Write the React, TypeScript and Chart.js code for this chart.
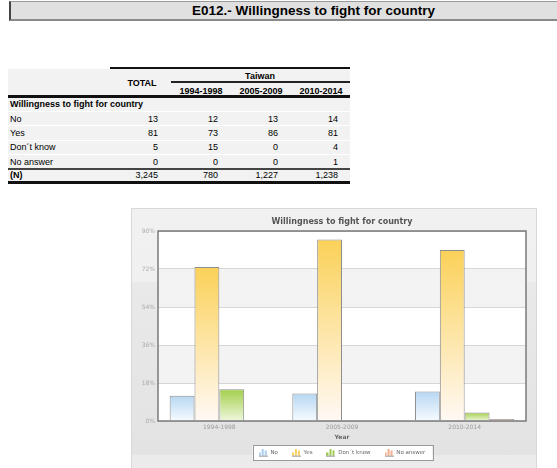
import React, { useEffect, useRef } from 'react';
import { Chart, registerables } from 'chart.js';

Chart.register(...registerables);

// ---------- data ----------
const pageTitle = 'E012.- Willingness to fight for country';
const chartTitle = 'Willingness to fight for country';
const countryLabel = 'Taiwan';
const categories = ['1994-1998', '2005-2009', '2010-2014'];
const seriesLabels = ['No', 'Yes', 'Don\u00b4t know', 'No answer'];
const noValues = [12, 13, 14];
const yesValues = [73, 86, 81];
const dontKnowValues = [15, 0, 4];
const noAnswerValues = [0, 0, 1];
const totalValues = [13, 81, 5, 0];
const sampleSizes = [3245, 780, 1227, 1238];
const yTicks = [0, 18, 36, 54, 72, 90];
const xAxisTitle = 'Year';

const seriesValues = [noValues, yesValues, dontKnowValues, noAnswerValues];
const seriesColors = [
  ['#b6d7f2', '#f7fbff'],
  ['#fbd158', '#fff9f5'],
  ['#a3cf4b', '#eff8de'],
  ['#f3ab88', '#fbe2d4'],
];
const iconColors = ['#a9cdef', '#f8cf63', '#9fcb52', '#f2ad8d'];

const FONT = "'DejaVu Sans', Verdana, sans-serif";
const TFONT = "'Liberation Sans', Arial, sans-serif";

function makeIcon(color: string) {
  const c = document.createElement('canvas');
  c.width = 9;
  c.height = 8;
  const g = c.getContext('2d')!;
  g.fillStyle = color;
  g.fillRect(0, 4, 2, 4);
  g.fillRect(3, 0, 2, 8);
  g.fillRect(6, 2, 2, 6);
  g.fillStyle = '#bbbbbb';
  g.fillRect(0, 7, 9, 1);
  return c;
}

const bandsPlugin = {
  id: 'bands',
  beforeDraw(chart: any) {
    const { ctx, chartArea: a, scales } = chart;
    if (!a) return;
    const y = scales.y;
    ctx.save();
    ctx.fillStyle = '#ffffff';
    ctx.fillRect(a.left, a.top, a.right - a.left, a.bottom - a.top);
    ctx.fillStyle = '#f3f3f3';
    for (let i = 0; i < yTicks.length - 1; i++) {
      if (i % 2 === 1) {
        const t = y.getPixelForValue(yTicks[i + 1]);
        const b = y.getPixelForValue(yTicks[i]);
        ctx.fillRect(a.left, t, a.right - a.left, b - t);
      }
    }
    // legend frame
    const lg = chart.legend;
    const hb = lg && lg.legendHitBoxes;
    if (hb && hb.length) {
      const left = Math.min(...hb.map((h: any) => h.left)) - 6;
      const right = Math.max(...hb.map((h: any) => h.left + h.width)) + 7;
      const cy = hb[0].top + hb[0].height / 2;
      const top = cy - 7.5;
      const h = 15;
      ctx.fillStyle = '#ffffff';
      ctx.fillRect(left, top, right - left, h);
      ctx.strokeStyle = '#9a9a9a';
      ctx.lineWidth = 1;
      ctx.strokeRect(Math.round(left) + 0.5, Math.round(top) + 0.5, Math.round(right - left), h);
    }
    ctx.restore();
  },
};

const framePlugin = {
  id: 'frame',
  afterDatasetsDraw(chart: any) {
    const { ctx, chartArea: a } = chart;
    ctx.save();
    ctx.strokeStyle = '#7a7a7a';
    ctx.lineWidth = 1.5;
    ctx.strokeRect(a.left, a.top, a.right - a.left, a.bottom - a.top);
    ctx.restore();
  },
};

function gradientFor(i: number) {
  return (ctx: any) => {
    const [top, bottom] = seriesColors[i];
    const chart = ctx.chart;
    if (!chart.chartArea || ctx.type !== 'data') return top;
    const y = chart.scales.y;
    const v = ctx.parsed ? ctx.parsed.y : 0;
    const yt = y.getPixelForValue(v);
    const yb = y.getPixelForValue(0);
    if (yb - yt < 1) return top;
    const g = chart.ctx.createLinearGradient(0, yt, 0, yb);
    g.addColorStop(0, top);
    g.addColorStop(1, bottom);
    return g;
  };
}

function ChartBox() {
  const ref = useRef<HTMLCanvasElement>(null);
  useEffect(() => {
    const icons = iconColors.map(makeIcon);
    const chart = new Chart(ref.current!, {
      type: 'bar',
      data: {
        labels: categories,
        datasets: seriesLabels.map((label, i) => ({
          label,
          data: seriesValues[i],
          backgroundColor: gradientFor(i),
          borderColor: '#8e8e8e',
          borderWidth: (c: any) => (c.raw === 0 ? 0 : 1),
          categoryPercentage: 0.81,
          barPercentage: 1,
        })),
      },
      options: {
        animation: false,
        responsive: false,
        devicePixelRatio: 1,
        layout: { padding: { left: 0, right: 0, top: 0, bottom: 2.75 } },
        plugins: {
          title: {
            display: true,
            text: chartTitle,
            color: '#555555',
            font: { family: FONT, size: 8, weight: 'bold' },
            padding: { top: 9.2, bottom: 4.2 },
          },
          legend: {
            position: 'bottom',
            labels: {
              usePointStyle: true,
              pointStyleWidth: 9,
              boxHeight: 6,
              padding: 14,
              color: '#666666',
              font: { family: FONT, size: 5.5 },
              generateLabels: (ch: any) => {
                const items = (Chart as any).defaults.plugins.legend.labels.generateLabels(ch);
                items.forEach((it: any) => {
                  it.pointStyle = icons[it.datasetIndex];
                });
                return items;
              },
            },
          },
          tooltip: { enabled: false },
        },
        scales: {
          x: {
            grid: { display: false, drawTicks: false },
            border: { display: false },
            ticks: { color: '#9a9a9a', font: { family: FONT, size: 6 }, padding: 3 },
            title: {
              display: true,
              text: xAxisTitle,
              color: '#666666',
              font: { family: FONT, size: 6, weight: 'bold' },
              padding: { top: 0, bottom: -4.85 },
            },
            afterFit: (s: any) => {
              s.height = 14.75;
            },
          },
          y: {
            position: 'left',
            min: yTicks[0],
            max: yTicks[yTicks.length - 1],
            afterBuildTicks: (s: any) => {
              s.ticks = yTicks.map((v) => ({ value: v }));
            },
            ticks: {
              color: '#aaaaaa',
              font: { family: FONT, size: 6 },
              padding: 3,
              callback: (v: any) => v + '%',
            },
            grid: { color: '#d6d6d6', drawTicks: false, lineWidth: 1 },
            border: { display: false },
            afterFit: (s: any) => {
              s.width = 27;
            },
          },
          yRight: {
            position: 'right',
            min: yTicks[0],
            max: yTicks[yTicks.length - 1],
            grid: { display: false, drawTicks: false },
            border: { display: false },
            ticks: { display: false },
            afterFit: (s: any) => {
              s.width = 27;
            },
          },
        },
      },
      plugins: [bandsPlugin, framePlugin],
    } as any);
    return () => chart.destroy();
  }, []);
  return (
    <canvas
      ref={ref}
      width={422}
      height={260}
      style={{ position: 'absolute', left: 131, top: 208, width: 422, height: 260 }}
    />
  );
}

function Cell(props: { x: number; y: number; w: number; h: number; align?: 'left' | 'right' | 'center'; bold?: boolean; children: any }) {
  const { x, y, w, h, align = 'left', bold, children } = props;
  return (
    <div
      style={{
        position: 'absolute',
        left: x,
        top: y,
        width: w,
        height: h,
        lineHeight: h + 'px',
        textAlign: align,
        fontFamily: TFONT,
        fontSize: 9,
        fontWeight: bold ? 'bold' : 'normal',
        color: '#000',
        whiteSpace: 'nowrap',
      }}
    >
      {children}
    </div>
  );
}

function Line(props: { x: number; y: number; w: number; h: number; c: string }) {
  return <div style={{ position: 'absolute', left: props.x, top: props.y, width: props.w, height: props.h, background: props.c }} />;
}

function DataTable() {
  const colRights = [158, 218, 278, 338];
  const yearCenters = [201, 261, 321];
  const rowTops = [111.6, 125.9, 140.2, 154.5];
  const rowH = 14.3;
  const fmt = (n: number) => n.toLocaleString('en-US');
  return (
    <>
      <Line x={8} y={69} w={342} h={113} c="#f2f2f2" />
      <Line x={110} y={67} w={240} h={2} c="#111" />
      <Line x={171} y={81} w={179} h={2} c="#222" />
      <Line x={8} y={95} w={342} h={3} c="#111" />
      <Cell x={200} y={70} w={120} h={12} align="center" bold>
        {countryLabel}
      </Cell>
      <Cell x={112} y={77} w={60} h={12} align="center" bold>
        TOTAL
      </Cell>
      {categories.map((c, i) => (
        <Cell key={c} x={yearCenters[i] - 30} y={86} w={60} h={11} align="center" bold>
          {c}
        </Cell>
      ))}
      <Cell x={10} y={98} w={200} h={13} bold>
        Willingness to fight for country
      </Cell>
      {seriesLabels.map((lab, r) => (
        <React.Fragment key={lab}>
          <Line x={8} y={rowTops[r] - 0.6} w={342} h={1} c="#ffffff" />
          <Cell x={10} y={rowTops[r]} w={100} h={rowH}>
            {lab}
          </Cell>
          <Cell x={colRights[0] - 50} y={rowTops[r]} w={50} h={rowH} align="right">
            {totalValues[r]}
          </Cell>
          {categories.map((c, k) => (
            <Cell key={c} x={colRights[k + 1] - 50} y={rowTops[r]} w={50} h={rowH} align="right">
              {seriesValues[r][k]}
            </Cell>
          ))}
        </React.Fragment>
      ))}
      <Line x={8} y={168} w={342} h={2} c="#444" />
      <Cell x={10} y={170} w={100} h={11} bold>
        (N)
      </Cell>
      {sampleSizes.map((n, k) => (
        <Cell key={k} x={colRights[k] - 50} y={170} w={50} h={11} align="right">
          {fmt(n)}
        </Cell>
      ))}
      <Line x={8} y={181} w={342} h={3} c="#111" />
    </>
  );
}

export default function App() {
  return (
    <div style={{ position: 'fixed', left: 0, top: 0, width: 557, height: 468, overflow: 'hidden', background: '#fff' }}>
      <div
        style={{
          position: 'absolute',
          left: 9,
          top: 1,
          width: 560,
          height: 17,
          background: '#e0e0e0',
          borderTop: '1px solid #9a9a9a',
          borderBottom: '2px solid #8a8a8a',
          borderLeft: '2px solid #444',
        }}
      />
      <div
        style={{
          position: 'absolute',
          left: 192,
          top: 3,
          height: 16,
          lineHeight: '16px',
          fontFamily: TFONT,
          fontWeight: 'bold',
          fontSize: 13.5,
          color: '#000',
          whiteSpace: 'nowrap',
        }}
      >
        {pageTitle}
      </div>
      <DataTable />
      <div
        style={{
          position: 'absolute',
          left: 131,
          top: 208,
          width: 404,
          height: 262,
          border: '1px solid #d8d8d8',
          background:
            'linear-gradient(to bottom, #f1f1f1 0%, #f0f0f0 28%, #e9e9e9 28%, #e3e3e3 94%, #ebebeb 94%, #ebebeb 100%)',
        }}
      />
      <ChartBox />
    </div>
  );
}
